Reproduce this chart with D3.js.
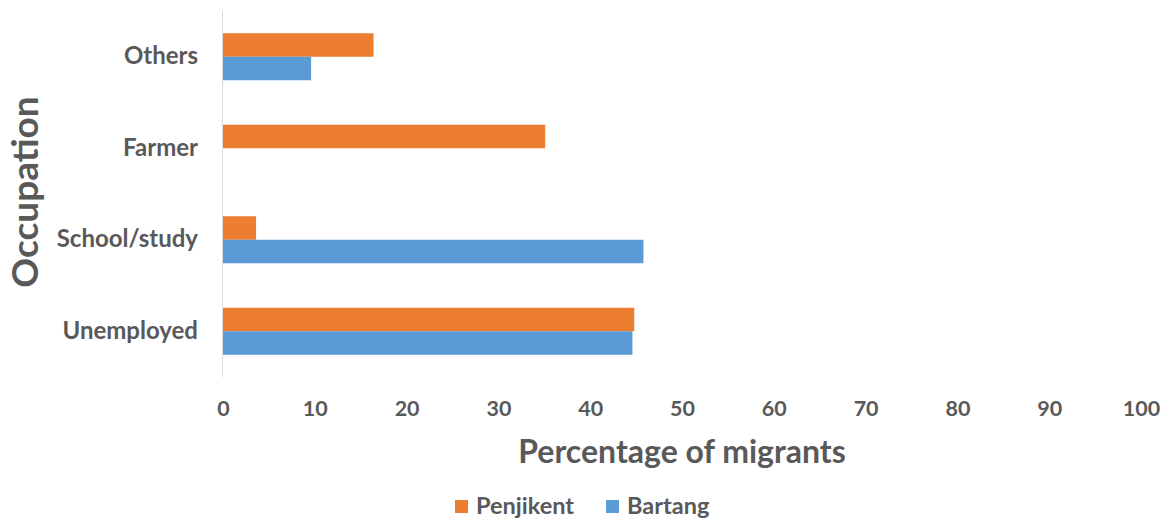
<!DOCTYPE html>
<html>
<head>
<meta charset="utf-8">
<script src="https://cdn.jsdelivr.net/npm/d3@7"></script>
<style>
  html, body { margin: 0; padding: 0; background: #fff; }
  svg { display: block; }
  text { font-family: Lato, "Open Sans", sans-serif; font-weight: 700; fill: #595959; }
</style>
</head>
<body>
<svg id="chart" width="1171" height="519"></svg>
<script>
// Occupation of migrants, per district (percent)
const categories = ["Others", "Farmer", "School/study", "Unemployed"];
const seriesNames = ["Penjikent", "Bartang"];
const penjikent = [16.4, 35.1, 3.6, 44.8];
const bartang = [9.6, 0, 45.8, 44.6];
const xTicks = [0, 10, 20, 30, 40, 50, 60, 70, 80, 90, 100];
const colors = ["#ED7D31", "#5B9BD5"];

const svg = d3.select("#chart");
const plot = { left: 223, right: 1141, top: 11, bottom: 377 };

const x = d3.scaleLinear().domain([0, 100]).range([plot.left, plot.right]);
const y = d3.scaleBand().domain(categories).range([plot.top, plot.bottom]).paddingInner(0.486).paddingOuter(0.243);
const ySub = d3.scaleBand().domain(seriesNames).range([0, y.bandwidth()]);

// vertical category axis line
svg.append("line")
  .attr("x1", x(0) - 0.5).attr("x2", x(0) - 0.5)
  .attr("y1", plot.top).attr("y2", plot.bottom)
  .attr("stroke", "#d9d9d9").attr("stroke-width", 1);

const rows = categories.map((c, i) => ({ cat: c, values: [penjikent[i], bartang[i]] }));

const groups = svg.append("g").selectAll("g").data(rows).join("g")
  .attr("transform", d => `translate(0,${y(d.cat)})`);

groups.selectAll("rect")
  .data(d => d.values.map((v, j) => ({ name: seriesNames[j], v, j })))
  .join("rect")
  .attr("x", x(0))
  .attr("y", d => ySub(d.name))
  .attr("width", d => x(d.v) - x(0))
  .attr("height", ySub.bandwidth())
  .attr("fill", d => colors[d.j]);

// category labels
const yAxis = d3.axisLeft(y).tickSize(0).tickPadding(25);
const gy = svg.append("g").attr("transform", `translate(${x(0)},0)`).call(yAxis);
gy.select(".domain").remove();
gy.selectAll("text").style("font-size", "24px").style("font-family", null).attr("fill", null);

// value axis ticks
const xAxis = d3.axisBottom(x).tickValues(xTicks).tickSize(0).tickPadding(0);
const gx = svg.append("g").attr("transform", `translate(0,399)`).call(xAxis);
gx.select(".domain").remove();
gx.selectAll("text").style("font-size", "21.5px").style("font-family", null).attr("fill", null).attr("dy", "0.78em");

// axis titles
svg.append("text")
  .attr("x", (plot.left + plot.right) / 2).attr("y", 463)
  .attr("text-anchor", "middle")
  .style("font-size", "32px")
  .text("Percentage of migrants");

svg.append("text")
  .attr("transform", "translate(38,192) rotate(-90)")
  .attr("text-anchor", "middle")
  .style("font-size", "37px")
  .text("Occupation");

// legend
const legend = svg.append("g").attr("transform", "translate(455,506)");
const legendX = [0, 151];
seriesNames.forEach((n, i) => {
  const g = legend.append("g").attr("transform", `translate(${legendX[i]},0)`);
  g.append("rect").attr("x", 0).attr("y", -6).attr("width", 13).attr("height", 13).attr("fill", colors[i]);
  g.append("text").attr("x", 21).attr("y", 0).attr("dy", "0.34em").style("font-size", "23.5px").text(n);
});
</script>
</body>
</html>
